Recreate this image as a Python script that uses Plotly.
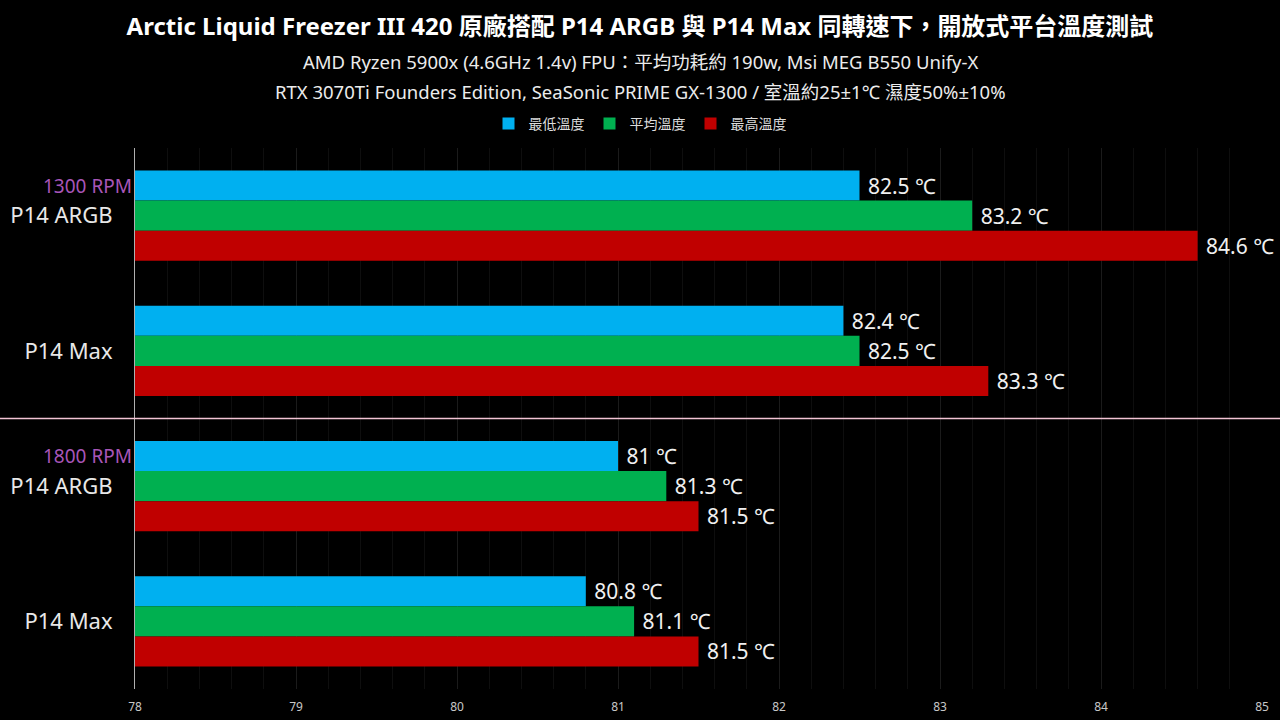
import plotly.graph_objects as go

categories = ["P14 ARGB", "P14 Max", "P14 ARGB", "P14 Max"]
rpm_labels = ["1300 RPM", "1800 RPM"]
rpm_groups = [0, 2]
series_names = ["最低溫度", "平均溫度", "最高溫度"]
min_temp = [82.5, 82.4, 81.0, 80.8]
avg_temp = [83.2, 82.5, 81.3, 81.1]
max_temp = [84.6, 83.3, 81.5, 81.5]
colors = ["#00b0f0", "#00b050", "#c00000"]
x_ticks = [78, 79, 80, 81, 82, 83, 84, 85]

title = "Arctic Liquid Freezer III 420 原廠搭配 P14 ARGB 與 P14 Max 同轉速下，開放式平台溫度測試"
sub1 = "AMD Ryzen 5900x (4.6GHz 1.4v) FPU：平均功耗約 190w, Msi MEG B550 Unify-X"
sub2 = "RTX 3070Ti Founders Edition, SeaSonic PRIME GX-1300 / 室溫約25±1℃ 濕度50%±10%"

FONT = "Noto Sans, Noto Sans CJK TC, sans-serif"
pos = list(range(len(categories)))

fig = go.Figure()
for name, vals, col in zip(series_names, [min_temp, avg_temp, max_temp], colors):
    fig.add_trace(go.Bar(
        y=pos, x=vals, name=name, orientation="h",
        marker=dict(color=col, line=dict(width=0)),
        text=[f"\u00a0{v:g} ℃" for v in vals], textposition="outside",
        textfont=dict(size=21, color="#f0f0f0", family=FONT),
        cliponaxis=False, constraintext="none",
    ))

H_TOP, H_BOT = 148, 689
L, R = 135, 1262
PW = R - L
def py(p):
    return (H_BOT - p) / (H_BOT - H_TOP)
def px(p):
    return (p - L) / PW

annotations = [
    dict(text=sub1, x=px(640), y=py(62), xref="paper", yref="paper", showarrow=False,
         font=dict(size=18.5, color="#ececec", family=FONT), xanchor="center", yanchor="middle"),
    dict(text=sub2, x=px(640), y=py(91), xref="paper", yref="paper", showarrow=False,
         font=dict(size=18.5, color="#ececec", family=FONT), xanchor="center", yanchor="middle"),
]
for lab, g in zip(rpm_labels, rpm_groups):
    annotations.append(dict(text=lab, x=0, xref="paper", y=g - 0.222, yref="y",
                            xanchor="right", yanchor="middle", xshift=-1, showarrow=False,
                            font=dict(size=19, color="#a855b8", family=FONT)))

fig.update_layout(
    width=1280, height=720,
    paper_bgcolor="#000000", plot_bgcolor="#000000",
    margin=dict(l=L, r=1280 - R, t=H_TOP, b=720 - H_BOT, pad=0, autoexpand=False),
    barmode="group", bargap=1/3, bargroupgap=0,
    title=dict(text=f"<b>{title}</b>", x=0.5, xanchor="center", y=1 - 27/720, yanchor="middle",
               font=dict(size=24, color="#ffffff", family=FONT)),
    legend=dict(orientation="h", x=px(640), xanchor="center", y=py(124), yanchor="middle",
                font=dict(size=14, color="#dddddd", family=FONT), itemwidth=30,
                traceorder="normal", bgcolor="rgba(0,0,0,0)"),
    font=dict(family=FONT, color="#dddddd"),
    annotations=annotations,
    shapes=[dict(type="line", xref="paper", yref="y", x0=px(0), x1=px(1280), y0=1.5, y1=1.5,
                 line=dict(color="#f2c4d4", width=1.5))],
    showlegend=True,
)
fig.update_xaxes(range=[78, 85], tickvals=x_ticks, ticktext=[str(t) for t in x_ticks],
                 showgrid=True, gridcolor="#1b1b1b", gridwidth=1, zeroline=False,
                 minor=dict(dtick=0.2, showgrid=True, gridcolor="#0e0e0e", gridwidth=1),
                 tickfont=dict(size=12, color="#c8c8c8", family=FONT), ticks="", ticklabelstandoff=9,
                 showline=False, automargin=False)
fig.update_yaxes(tickvals=pos, ticktext=categories, range=[3.5, -0.5],
                 showgrid=False, zeroline=False, showline=True, linecolor="#b0b0b0", linewidth=1,
                 tickfont=dict(size=22, color="#e8e8e8", family=FONT), ticks="", ticklabelstandoff=17,
                 automargin=False)

fig.write_html("out.html")
